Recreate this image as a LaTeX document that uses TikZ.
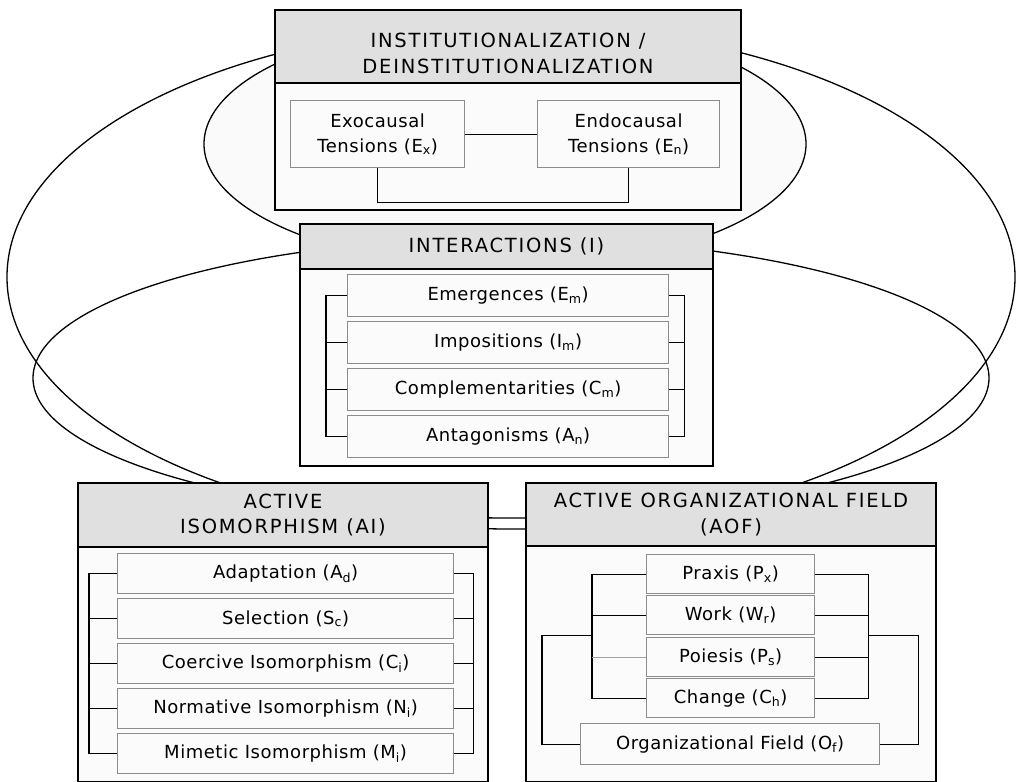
\documentclass[tikz,border=0pt]{standalone}
\usepackage{fontspec}
\setmainfont[LetterSpace=3]{DejaVu Sans}
\newfontfamily\headfont[LetterSpace=9]{DejaVu Sans}
\usepackage{xcolor}
\usepackage{tikz}
\definecolor{headgray}{HTML}{E0E0E0}
\definecolor{bodygray}{HTML}{FBFBFB}
\definecolor{itemline}{HTML}{8C8C8C}
\definecolor{ovalfill}{HTML}{FAFAFA}
\definecolor{softlink}{HTML}{A0A0A0}
\tikzset{
  panelbody/.style={draw=black, line width=2pt, fill=bodygray, anchor=north west, inner sep=0pt},
  panelhead/.style={draw=black, line width=2pt, fill=headgray, anchor=north west, align=center, inner sep=0pt, font=\headfont\fontsize{19.5}{25.5}\selectfont},
  itembox/.style={draw=itemline, line width=1.2pt, fill=bodygray, anchor=north west, align=center, inner sep=0pt, font=\fontsize{18}{25}\selectfont},
  link/.style={draw=black, line width=1.2pt},
  oval/.style={draw=black, line width=1.3pt}
}

\begin{document}
\begin{tikzpicture}[x=1pt,y=-1pt]
      \useasboundingbox (0,0) rectangle (1018,782);
      % the three ovals behind the panels
      \draw[oval] (511,277) ellipse [x radius=504pt, y radius=252pt];
      \draw[oval] (511,378) ellipse [x radius=478pt, y radius=140pt];
      \draw[oval, fill=ovalfill] (505,144) ellipse [x radius=301pt, y radius=124pt];

      % institutionalization
      \node[panelbody, minimum width=466pt, minimum height=127pt] (instbody) at (274,82) {};
      \node[panelhead, minimum width=466pt, minimum height=73pt] (insthead) at (274,9) {\rule{0pt}{28pt}INSTITUTIONALIZATION /\\DEINSTITUTIONALIZATION};
      \node[itembox, minimum width=174pt, minimum height=67pt] (exo) at (290,100) {Exocausal\\Tensions (E\textsubscript{x})};
      \node[itembox, minimum width=182pt, minimum height=67pt] (endo) at (537,100) {Endocausal\\Tensions (E\textsubscript{n})};

      % interactions
      \node[panelbody, minimum width=413pt, minimum height=197pt] (interbody) at (299,268) {};
      \node[panelhead, minimum width=413pt, minimum height=45pt] (interhead) at (299,223) {INTERACTIONS (I)};
      \node[itembox, minimum width=321pt, minimum height=42pt] (em) at (347,274) {Emergences (E\textsubscript{m})};
      \node[itembox, minimum width=321pt, minimum height=42pt] (im) at (347,321) {Impositions (I\textsubscript{m})};
      \node[itembox, minimum width=321pt, minimum height=42pt] (cm) at (347,368) {Complementarities (C\textsubscript{m})};
      \node[itembox, minimum width=321pt, minimum height=42pt] (an) at (347,415) {Antagonisms (A\textsubscript{n})};

      % active isomorphism
      \node[panelbody, minimum width=410pt, minimum height=235pt] (aibody) at (77,546) {};
      \node[panelhead, minimum width=410pt, minimum height=64pt] (aihead) at (77,482) {ACTIVE\\ISOMORPHISM (AI)};
      \node[itembox, minimum width=336pt, minimum height=40pt] (ad) at (117,553) {Adaptation (A\textsubscript{d})};
      \node[itembox, minimum width=336pt, minimum height=40pt] (sc) at (117,598) {Selection (S\textsubscript{c})};
      \node[itembox, minimum width=336pt, minimum height=40pt] (ci) at (117,643) {Coercive Isomorphism (C\textsubscript{i})};
      \node[itembox, minimum width=336pt, minimum height=40pt] (ni) at (117,688) {Normative Isomorphism (N\textsubscript{i})};
      \node[itembox, minimum width=336pt, minimum height=40pt] (mi) at (117,733) {Mimetic Isomorphism (M\textsubscript{i})};

      % active organizational field
      \node[panelbody, minimum width=410pt, minimum height=236pt] (aofbody) at (525,545) {};
      \node[panelhead, minimum width=410pt, minimum height=63pt] (aofhead) at (525,482) {ACTIVE ORGANIZATIONAL FIELD\\(AOF)};
      \node[itembox, minimum width=168pt, minimum height=39pt] (px) at (646,554) {Praxis (P\textsubscript{x})};
      \node[itembox, minimum width=168pt, minimum height=39pt] (wr) at (646,595) {Work (W\textsubscript{r})};
      \node[itembox, minimum width=168pt, minimum height=39pt] (ps) at (646,637) {Poiesis (P\textsubscript{s})};
      \node[itembox, minimum width=168pt, minimum height=39pt] (ch) at (646,678) {Change (C\textsubscript{h})};
      \node[itembox, minimum width=299pt, minimum height=41pt] (of) at (580,723) {Organizational Field (O\textsubscript{f})};

      % links
      \draw[link] (exo) -- (endo);
      \draw[link] (exo.south) -- ++(0,34) -| (endo.south);

      \draw[link] (em.west) -| ([xshift=-21pt]an.west) -- (an.west);
      \draw[link] (im.west) -- ++(-21,0);
      \draw[link] (cm.west) -- ++(-21,0);
      \draw[link] (em.east) -| ([xshift=15pt]an.east) -- (an.east);
      \draw[link] (im.east) -- ++(15,0);
      \draw[link] (cm.east) -- ++(15,0);

      \draw[link] (ad.west) -| ([xshift=-28pt]mi.west) -- (mi.west);
      \draw[link] (sc.west) -- ++(-28,0);
      \draw[link] (ci.west) -- ++(-28,0);
      \draw[link] (ni.west) -- ++(-28,0);
      \draw[link] (ad.east) -| ([xshift=19pt]mi.east) -- (mi.east);
      \draw[link] (sc.east) -- ++(19,0);
      \draw[link] (ci.east) -- ++(19,0);
      \draw[link] (ni.east) -- ++(19,0);

      \draw[link] (px.west) -| ([xshift=-54pt]ch.west) -- (ch.west);
      \draw[link] (wr.west) -- ++(-54,0);
      \draw[link, draw=softlink] (ps.west) -- ++(-54,0);
      \draw[link] (px.east) -| ([xshift=53pt]ch.east) -- (ch.east);
      \draw[link] (wr.east) -- ++(53,0);
      \draw[link] (ps.east) -- ++(53,0);
      \draw[link] ([xshift=-54pt]wr.south west) -- ++(-50,0) |- (of.west);
      \draw[link] ([xshift=53pt]wr.south east) -- ++(50,0) |- (of.east);
    \end{tikzpicture}
\end{document}
